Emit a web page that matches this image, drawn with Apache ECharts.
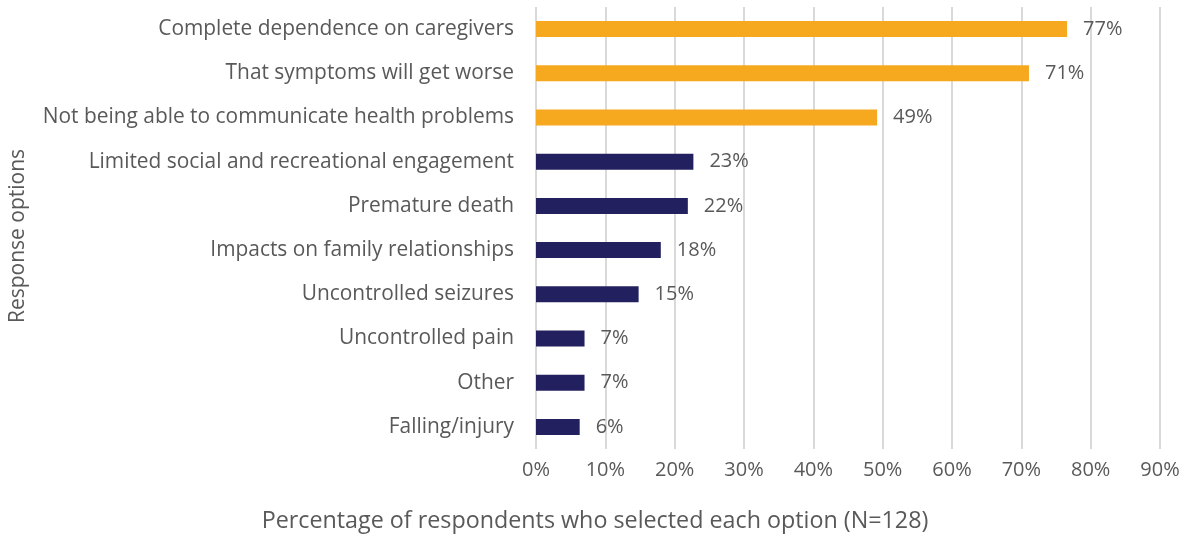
<!DOCTYPE html>
<html>
<head>
<meta charset="utf-8">
<script src="https://cdn.jsdelivr.net/npm/echarts@6/dist/echarts.min.js"></script>
<style>
  html, body { margin: 0; padding: 0; background: #fff; }
  #chart { width: 1190px; height: 548px; }
</style>
</head>
<body>
<div id="chart"></div>
<script>
// categories, top to bottom as in the picture
const categories = [
  "Complete dependence on caregivers",
  "That symptoms will get worse",
  "Not being able to communicate health problems",
  "Limited social and recreational engagement",
  "Premature death",
  "Impacts on family relationships",
  "Uncontrolled seizures",
  "Uncontrolled pain",
  "Other",
  "Falling/injury"
];
// percent of respondents
const values = [76.6, 71.1, 49.2, 22.7, 21.9, 18.0, 14.8, 7.0, 7.0, 6.3];
// first three bars are highlighted
const highlightCount = 3;
const xTicks = [0, 10, 20, 30, 40, 50, 60, 70, 80, 90];

const FONT = "Open Sans";
const TXT = "#595959";

const chart = echarts.init(document.getElementById("chart"));
chart.setOption({
  animation: false,
  textStyle: { fontFamily: FONT },
  title: {
    text: "Percentage of respondents who selected each option (N=128)",
    left: "center",
    top: 505,
    textStyle: { fontSize: 23.3, fontWeight: "normal", color: TXT, fontFamily: FONT }
  },
  grid: { left: 536, right: 30, top: 7, bottom: 99, containLabel: false },
  xAxis: {
    type: "value",
    min: xTicks[0],
    max: xTicks[xTicks.length - 1],
    interval: 10,
    axisLine: { show: false },
    axisTick: { show: false },
    axisLabel: { fontSize: 20, color: TXT, margin: 11, formatter: "{value}%" },
    splitLine: { show: true, lineStyle: { color: "#d9d9d9", width: 2 } }
  },
  yAxis: {
    type: "category",
    inverse: true,
    data: categories,
    name: "Response options",
    nameLocation: "middle",
    nameGap: 507,
    nameRotate: 90,
    nameTextStyle: { fontSize: 21, color: TXT, fontFamily: FONT, padding: [0, 16, 0, 0] },
    axisLine: { show: false },
    axisTick: { show: false },
    axisLabel: { fontSize: 20.9, color: TXT, margin: 22 }
  },
  series: [{
    type: "bar",
    barWidth: 16,
    data: values.map((v, i) => ({
      value: v,
      itemStyle: { color: i < highlightCount ? "#F6A81F" : "#22205E" }
    })),
    label: {
      show: true,
      position: "right",
      distance: 16,
      fontSize: 20,
      color: TXT,
      formatter: p => Math.round(p.value) + "%"
    }
  }]
});
</script>
</body>
</html>
